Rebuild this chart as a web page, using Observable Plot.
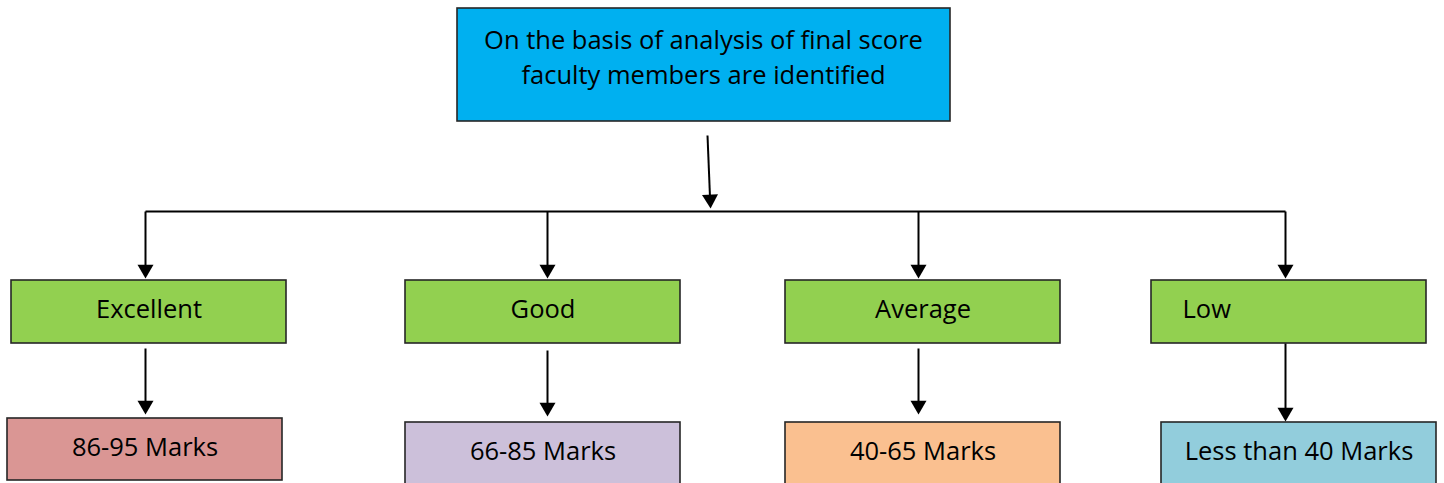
<!DOCTYPE html>
<html>
<head>
<meta charset="utf-8">
<script src="https://cdn.jsdelivr.net/npm/d3@7"></script>
<script src="https://cdn.jsdelivr.net/npm/@observablehq/plot@0.6"></script>
<style>
  html, body { margin: 0; padding: 0; background: #fff; overflow: hidden; }
  #chart svg { display: block; }
</style>
</head>
<body>
<div id="chart"></div>
<script>
// ---- content ----
const titleLines = ["On the basis of analysis of final score", "faculty members are identified"];
const levels = ["Excellent", "Good", "Average", "Low"];
const ranges = ["86-95 Marks", "66-85 Marks", "40-65 Marks", "Less than 40 Marks"];
const rangeColors = ["#DA9694", "#CCC0DA", "#FAC090", "#92CDDC"];
const levelColor = "#92D050";
const titleColor = "#00B0F0";

// ---- layout (pixel space of the diagram) ----
const W = 1444, H = 483;
const boxW = 275;
const levelLeft = [11, 405, 785, 1151];
const rangeLeft = [7, 405, 785, 1161];
const branchX = [145, 547, 918, 1285];
const levelTop = 280, levelBottom = 343;
const rangeTop = [418, 422, 422, 422];
const rangeBottom = [480, 488, 488, 488];
const lowerStart = [348, 350, 348, 343];
const lowerTip = [414, 416, 414, 421];
const busY = 211, upperTip = 278;
const levelLeftAligned = [false, false, false, true];

const headHalf = 9.24; // distance from triangle centre to tip
const headR = 5.94;

const titleBox = {x1: 457, x2: 950, y1: 8, y2: 121};
const titleArrow = {x1: 707, y1: 135, x2: 710, y2: 208};

const boxes = [
  {x1: titleBox.x1, x2: titleBox.x2, y1: titleBox.y1, y2: titleBox.y2, fill: titleColor},
  ...levels.map((d, i) => ({x1: levelLeft[i], x2: levelLeft[i] + boxW, y1: levelTop, y2: levelBottom, fill: levelColor})),
  ...ranges.map((d, i) => ({x1: rangeLeft[i], x2: rangeLeft[i] + boxW, y1: rangeTop[i], y2: rangeBottom[i], fill: rangeColors[i]}))
];

const links = [
  {x1: titleArrow.x1, y1: titleArrow.y1, x2: titleArrow.x1 + (titleArrow.x2 - titleArrow.x1) * 0.88, y2: titleArrow.y2 - 8},
  {x1: branchX[0], y1: busY, x2: branchX[3], y2: busY},
  ...branchX.map(x => ({x1: x, y1: busY, x2: x, y2: upperTip - 8})),
  ...branchX.map((x, i) => ({x1: x, y1: lowerStart[i], x2: x, y2: lowerTip[i] - 8}))
];

const heads = [
  {x: titleArrow.x2 - 0.3, y: titleArrow.y2 - headHalf, rot: 180 - Math.atan2(titleArrow.x2 - titleArrow.x1, titleArrow.y2 - titleArrow.y1) * 180 / Math.PI},
  ...branchX.map(x => ({x, y: upperTip - headHalf, rot: 180})),
  ...branchX.map((x, i) => ({x, y: lowerTip[i] - headHalf, rot: 180}))
];

const centredLabels = [
  {x: (titleBox.x1 + titleBox.x2) / 2 - 0.5, y: 55, text: titleLines.join("\n")},
  ...levels.map((d, i) => ({x: levelLeft[i] + boxW / 2, y: (levelTop + levelBottom) / 2 - 5, text: d, left: levelLeftAligned[i]}))
    .filter(d => !d.left),
  ...ranges.map((d, i) => ({x: rangeLeft[i] + boxW / 2, y: rangeTop[i] + 26.5, text: d}))
];
const leftLabels = levels
  .map((d, i) => ({x: levelLeft[i] + 31, y: (levelTop + levelBottom) / 2 - 5, text: d, left: levelLeftAligned[i]}))
  .filter(d => d.left);

const font = "'Open Sans', sans-serif";
const textOpts = {x: "x", y: "y", text: "text", fontSize: 25.5, lineHeight: 1.37, fill: "#000", fontFamily: font};

const chart = Plot.plot({
  width: W,
  height: H,
  margin: 0,
  x: {domain: [0, W], range: [0, W], axis: null},
  y: {domain: [0, H], range: [0, H], axis: null},
  style: {background: "#fff", overflow: "visible"},
  marks: [
    Plot.rect(boxes, {x1: "x1", x2: "x2", y1: "y1", y2: "y2", fill: "fill", stroke: "#262626", strokeWidth: 1.6}),
    Plot.link(links, {x1: "x1", y1: "y1", x2: "x2", y2: "y2", stroke: "#000", strokeWidth: 2}),
    Plot.dot(heads, {x: "x", y: "y", rotate: "rot", symbol: "triangle", r: headR, fill: "#000", stroke: null}),
    Plot.text(centredLabels, {...textOpts, textAnchor: "middle"}),
    Plot.text(leftLabels, {...textOpts, textAnchor: "start"})
  ]
});

document.getElementById("chart").appendChild(chart);
</script>
</body>
</html>
